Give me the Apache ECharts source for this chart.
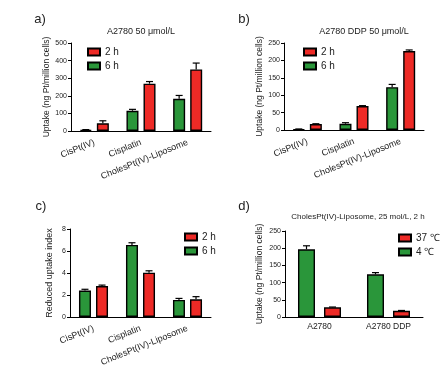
<!DOCTYPE html>
<html>
<head>
<meta charset="utf-8">
<script src="https://cdn.jsdelivr.net/npm/echarts@6/dist/echarts.min.js"></script>
<style>
html,body{margin:0;padding:0;background:#fff;}
#chart{width:443px;height:374px;}
</style>
</head>
<body>
<div id="chart"></div>
<script>
// ---- data ----
const categoriesABC = ['CisPt(IV)', 'Cisplatin', 'CholesPt(IV)-Liposome'];
const categoriesD = ['A2780', 'A2780 DDP'];

// panel a: A2780 50 µmol/L
const a6h = [6, 115, 183];
const a6hErr = [2, 8, 19];
const a2h = [44, 269, 350];
const a2hErr = [14, 12, 36];
const yTicksA = [0, 100, 200, 300, 400, 500];

// panel b: A2780 DDP 50 µmol/L
const b6h = [2, 18, 123];
const b6hErr = [1, 3, 8];
const b2h = [17, 69, 227];
const b2hErr = [1, 1, 3];
const yTicksB = [0, 50, 100, 150, 200, 250];

// panel c: reduced uptake index
const c6h = [2.4, 6.55, 1.55];
const c6hErr = [0.12, 0.2, 0.14];
const c2h = [2.82, 4.03, 1.61];
const c2hErr = [0.08, 0.17, 0.24];
const yTicksC = [0, 2, 4, 6, 8];

// panel d: CholesPt(IV)-Liposome, 25 mol/L, 2 h
const d4C = [197, 124];
const d4CErr = [10, 5];
const d37C = [28, 18];
const d37CErr = [1, 1];
const yTicksD = [0, 50, 100, 150, 200, 250];

// ---- styling ----
const RED = '#ee2a26';
const GREEN = '#2a963a';
const FONT = 'Liberation Sans, Arial, sans-serif';
const TXT = '#222';

const chart = echarts.init(document.getElementById('chart'), null, {renderer: 'canvas'});

const grids = [
  {left: 71, top: 43, width: 140, height: 88},
  {left: 284, top: 43, width: 140, height: 87},
  {left: 70, top: 229, width: 141, height: 88},
  {left: 285, top: 231, width: 138, height: 86}
];

function xAxis(idx, cats, rotate) {
  return {
    type: 'category', gridIndex: idx, data: cats,
    axisLine: {lineStyle: {color: '#000', width: 1}},
    axisTick: {alignWithLabel: true, length: 3, lineStyle: {color: '#000'}},
    axisLabel: {
      rotate: rotate, fontSize: rotate ? 9 : 8.5, color: TXT, fontFamily: FONT,
      margin: rotate ? 11 : 5, interval: 0
    }
  };
}
function yAxis(idx, ticks, name, nameGap, nameSize) {
  return {
    type: 'value', gridIndex: idx,
    min: ticks[0], max: ticks[ticks.length - 1], interval: ticks[1] - ticks[0],
    name: name, nameLocation: 'middle', nameGap: nameGap,
    nameTextStyle: {fontSize: nameSize, color: TXT, fontFamily: FONT},
    axisLine: {show: true, lineStyle: {color: '#000', width: 1}},
    axisTick: {show: true, length: 3, lineStyle: {color: '#000'}},
    axisLabel: {fontSize: 7, color: TXT, fontFamily: FONT, margin: 4},
    splitLine: {show: false}
  };
}

function bar(idx, name, vals, color, bw, gap) {
  return {
    type: 'bar', name: name, xAxisIndex: idx, yAxisIndex: idx,
    data: vals, barWidth: bw, barGap: gap + '%',
    itemStyle: {color: color, borderColor: '#000', borderWidth: 1.4},
    emphasis: {disabled: true}, animation: false
  };
}
function errBars(idx, vals, errs, sign, bw, gap) {
  return {
    type: 'custom', xAxisIndex: idx, yAxisIndex: idx, z: 5, silent: true, animation: false,
    data: vals.map((v, i) => [i, v, v + errs[i]]),
    encode: {x: 0, y: [1, 2]},
    renderItem: function (params, api) {
      const off = sign * (bw + bw * gap / 100) / 2;
      const p0 = api.coord([api.value(0), api.value(1)]);
      const p1 = api.coord([api.value(0), api.value(2)]);
      const x = p0[0] + off;
      return {
        type: 'group',
        children: [
          {type: 'line', shape: {x1: x, y1: p0[1], x2: x, y2: p1[1]}, style: {stroke: '#000', lineWidth: 1.2}},
          {type: 'line', shape: {x1: x - 3.5, y1: p1[1], x2: x + 3.5, y2: p1[1]}, style: {stroke: '#000', lineWidth: 1.2}}
        ]
      };
    }
  };
}

function legend(left, top, names) {
  return {
    orient: 'vertical', left: left, top: top, data: names,
    itemWidth: 12, itemHeight: 7, itemGap: 2, icon: 'rect',
    textStyle: {fontSize: 10, color: TXT, fontFamily: FONT, lineHeight: 12},
    selectedMode: false
  };
}

function txt(x, y, s, size) {
  return {type: 'text', x: x, y: y, silent: true,
    style: {text: s, fontSize: size, fontFamily: FONT, fill: TXT, align: 'center', verticalAlign: 'middle'}};
}

const BW = 12, GAP = 42, BWD = 17, GAPD = 53;

const option = {
  backgroundColor: '#fff',
  animation: false,
  grid: grids,
  xAxis: [
    xAxis(0, categoriesABC, 22),
    xAxis(1, categoriesABC, 22),
    xAxis(2, categoriesABC, 22),
    xAxis(3, categoriesD, 0)
  ],
  yAxis: [
    yAxis(0, yTicksA, 'Uptake (ng Pt/million cells)', 15, 8.5),
    yAxis(1, yTicksB, 'Uptake (ng Pt/million cells)', 18, 8.5),
    yAxis(2, yTicksC, 'Reduced uptake index', 16, 9),
    yAxis(3, yTicksD, 'Uptake (ng Pt/million cells)', 21, 8.5)
  ],
  legend: [
    legend(82, 41, ['2 h', '6 h']),
    legend(298, 41, ['2 h', '6 h']),
    legend(179, 226, ['2 h', '6 h']),
    legend(393, 227, ['37 ℃', '4 ℃'])
  ],
  series: [
    bar(0, '6 h', a6h, GREEN, BW, GAP),
    bar(0, '2 h', a2h, RED, BW, GAP),
    errBars(0, a6h, a6hErr, -1, BW, GAP),
    errBars(0, a2h, a2hErr, 1, BW, GAP),

    bar(1, '6 h', b6h, GREEN, BW, GAP),
    bar(1, '2 h', b2h, RED, BW, GAP),
    errBars(1, b6h, b6hErr, -1, BW, GAP),
    errBars(1, b2h, b2hErr, 1, BW, GAP),

    bar(2, '6 h', c6h, GREEN, BW, GAP),
    bar(2, '2 h', c2h, RED, BW, GAP),
    errBars(2, c6h, c6hErr, -1, BW, GAP),
    errBars(2, c2h, c2hErr, 1, BW, GAP),

    bar(3, '4 ℃', d4C, GREEN, BWD, GAPD),
    bar(3, '37 ℃', d37C, RED, BWD, GAPD),
    errBars(3, d4C, d4CErr, -1, BWD, GAPD),
    errBars(3, d37C, d37CErr, 1, BWD, GAPD)
  ],
  graphic: [
    txt(40, 19, 'a)', 13),
    txt(244, 19, 'b)', 13),
    txt(41, 206, 'c)', 13),
    txt(244, 206, 'd)', 13),
    txt(141, 32, 'A2780 50 μmol/L', 9),
    txt(364, 32, 'A2780 DDP 50 μmol/L', 9),
    txt(358, 217, 'CholesPt(IV)-Liposome, 25 mol/L, 2 h', 8)
  ]
};
chart.setOption(option);
</script>
</body>
</html>
